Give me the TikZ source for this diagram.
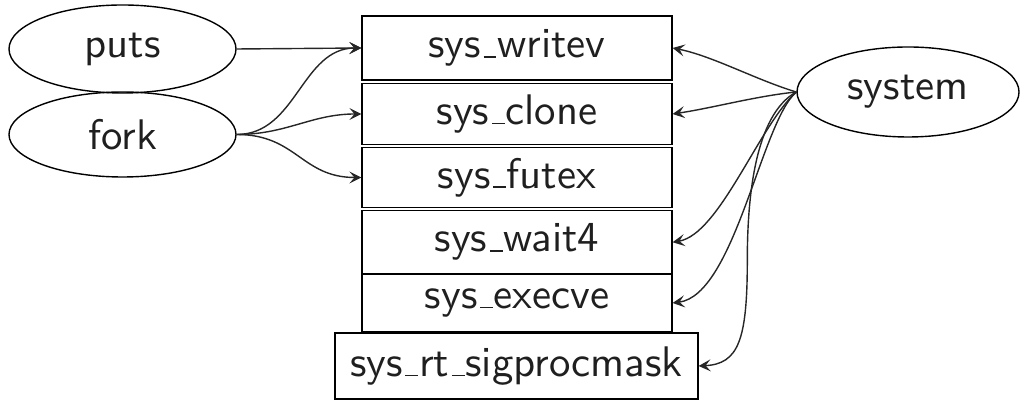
\documentclass[tikz,border=0pt]{standalone}
\usepackage{fontspec}
\newfontfamily\lmsten[Extension=.otf]{lmsans10-regular}
\usetikzlibrary{arrows.meta,shapes.geometric}
\newcommand\us{\kern.06em\vbox{\hrule width.3em height .045em}\kern.02em}
\begin{document}
\begin{tikzpicture}[x=0.5pt,y=0.5pt,
  every node/.style={font=\lmsten\fontsize{21.4}{25}\selectfont, text=black!88, inner sep=0pt, line width=0.7pt},
  oval/.style={draw, ellipse},
  sysbox/.style={draw, rectangle, minimum width=155pt, line width=0.6pt},
  link/.style={line width=0.7pt, draw=black!85, -{Stealth[length=6pt,width=6pt,inset=2.5pt]}}
]
\useasboundingbox (0,0) rectangle (1020,400);
% left ovals
\node[oval, minimum width=113.5pt, minimum height=44pt] (puts) at (122.5,351) {puts};
\node[oval, minimum width=113.5pt, minimum height=42.5pt] (fork) at (122.5,265.5) {fork};
% right oval
\node[oval, minimum width=111pt, minimum height=45pt] (system) at (908,308) {system};
% boxes
\node[sysbox, minimum height=32pt] (writev) at (517,352) {sys\us writev};
\node[sysbox, minimum height=30.5pt] (clone) at (517,286) {sys\us clone};
\node[sysbox, minimum height=30pt] (futex) at (517,222.5) {sys\us futex};
\node[sysbox, minimum height=31.75pt] (wait4) at (517,157.75) {sys\us wait4};
\node[sysbox, minimum height=29pt] (execve) at (517,97) {sys\us execve};
\node[draw, rectangle, line width=0.6pt, minimum width=181.5pt, minimum height=33pt] (sigmask) at (516.5,34) {sys\us rt\us sigprocmask};
% left edges
\draw[link] (puts.east) -- (writev.west);
\draw[link] (fork.east) .. controls +(60,0) and +(-60,0) .. (writev.west);
\draw[link] (fork.east) .. controls +(50,0) and +(-50,0) .. (clone.west);
\draw[link] (fork.east) .. controls +(60,0) and +(-60,0) .. (futex.west);
% right edges
\draw[link] (system.west) .. controls +(-40,12) and +(40,-8) .. (writev.east);
\draw[link] (system.west) .. controls +(-40,-4) and +(40,6) .. (clone.east);
\draw[link] (system.west) .. controls +(-37,-33) and +(47,8) .. (wait4.east);
\draw[link] (system.west) .. controls +(-35,-30) and +(62,8) .. (execve.east);
\draw[link] (system.west) .. controls +(-42,-23) and +(0,60) .. +(-49,-168) .. controls +(0,-80) and +(40,2) .. (sigmask.east);
\end{tikzpicture}
\end{document}
